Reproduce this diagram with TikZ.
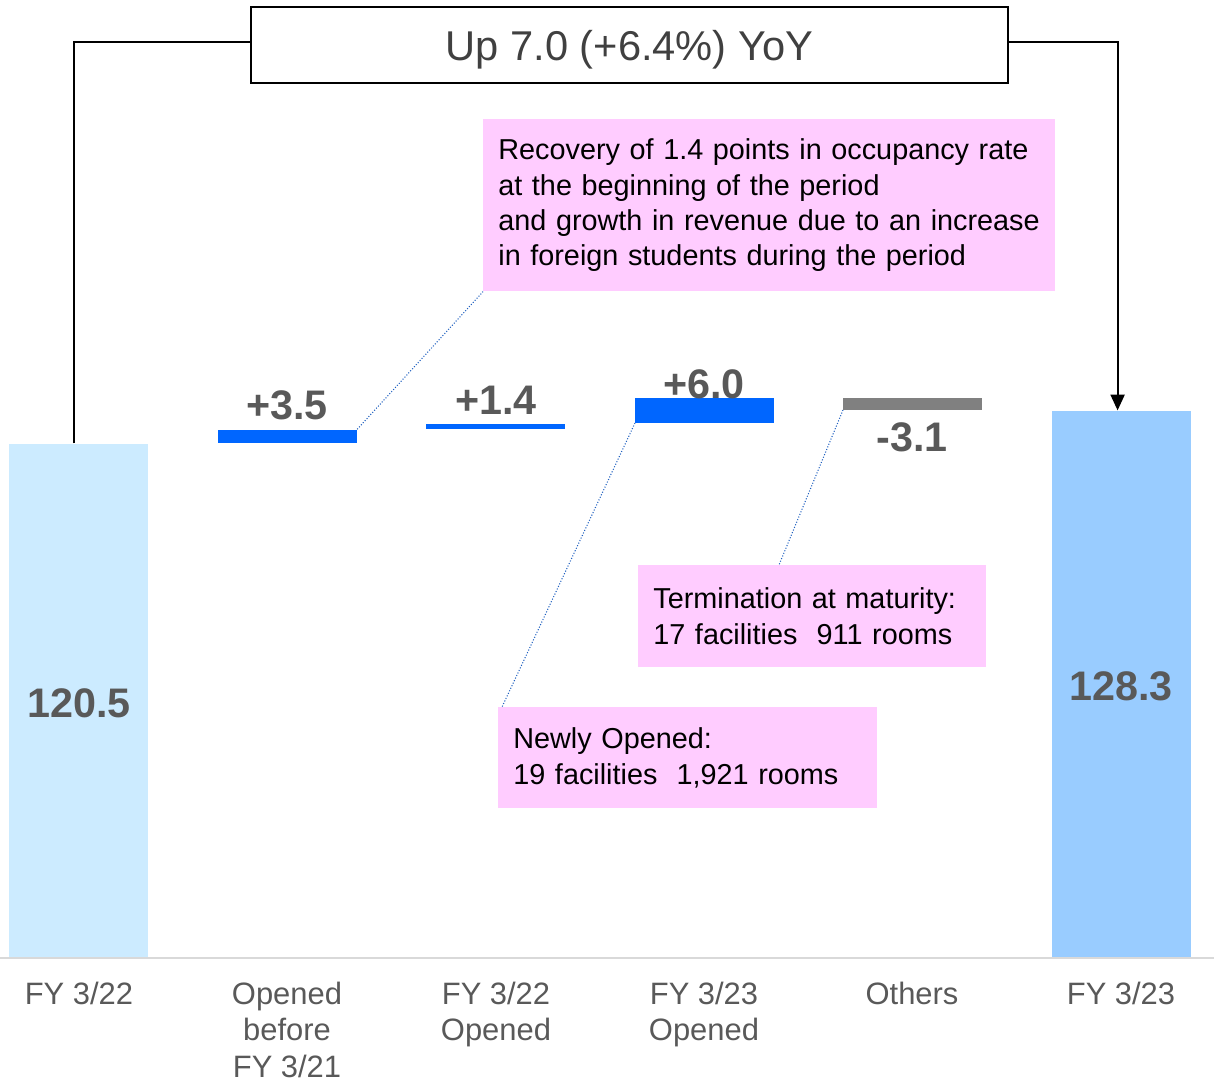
\documentclass[tikz,border=0pt]{standalone}
\usepackage{fontspec}
\setmainfont{Liberation Sans}
\usepackage{tikz}
\usetikzlibrary{arrows.meta,positioning}
\usepackage{xcolor}
\definecolor{startblue}{HTML}{CCEBFF}
\definecolor{endblue}{HTML}{99CCFF}
\definecolor{barblue}{HTML}{0066FF}
\definecolor{bargray}{HTML}{808080}
\definecolor{notepink}{HTML}{FFCCFF}
\definecolor{valgray}{HTML}{595959}
\definecolor{titlegray}{HTML}{404040}
\definecolor{axisgray}{HTML}{D9D9D9}
\definecolor{pointblue}{HTML}{2060C0}

\begin{document}
\begin{tikzpicture}[x=0.02cm,y=-0.02cm,
	bar/.style={anchor=south west,inner sep=0,minimum width=2.77cm},
	val/.style={text=valgray,inner sep=0,font=\fontsize{23.5}{28}\selectfont\bfseries},
	cat/.style={anchor=north,inner sep=0,align=center,text=valgray,font=\fontsize{17.6}{20.6}\selectfont},
	note/.style={anchor=north west,fill=notepink,inner xsep=0.3cm,inner ysep=0,align=left,font=\fontsize{16.4}{20.1}\selectfont},
	pointer/.style={densely dotted,line width=0.6pt,draw=pointblue}]
	\useasboundingbox (0,0) rectangle (1214,1082);
	\node[bar,fill=startblue,minimum height=10.26cm] (start) at (9,957) {};
	\node[bar,fill=endblue,minimum height=10.92cm] (total) at (1052,957) {};
	\node[bar,fill=barblue,minimum height=0.26cm] (before) at (218,443) {};
	\node[bar,fill=barblue,minimum height=0.1cm] (open22) at (426,429) {};
	\node[bar,fill=barblue,minimum height=0.5cm] (open23) at (635,423) {};
	\node[bar,fill=bargray,minimum height=0.24cm] (others) at (843,410) {};
	\draw[axisgray,line width=1.2pt] (0,958) -- (1214,958);
	\node[val] (vstart) at (79,703) {120.5};
	\node[val] (vbefore) at (287,405) {+3.5};
	\node[val] (vopen22) at (496,400) {+1.4};
	\node[val] (vopen23) at (704,384) {+6.0};
	\node[val] (vothers) at (912,437) {-3.1};
	\node[val] (vtotal) at (1121,686) {128.3};
	\node[cat] (cstart) at (79,982) {FY 3/22};
	\node[cat] (cbefore) at (287,982) {Opened\\before\\FY 3/21};
	\node[cat] (copen22) at (496,982) {FY 3/22\\Opened};
	\node[cat] (copen23) at (704,982) {FY 3/23\\Opened};
	\node[cat] (cothers) at (912,982) {Others};
	\node[cat] (ctotal) at (1121,982) {FY 3/23};
	\node[draw,line width=1.1pt,minimum width=15.14cm,minimum height=1.52cm,text depth=0pt,text=titlegray,font=\fontsize{23.7}{28}\selectfont] (yoy) at (629.5,45) {Up 7.0 (+6.4\%) YoY};
	\draw[line width=1.1pt] ([xshift=-0.09cm]start.north) |- ([yshift=0.06cm]yoy.west);
	\draw[line width=1.1pt,-{Triangle[width=8pt,length=9pt]}] ([yshift=0.06cm]yoy.east) -| ([xshift=-0.08cm]total.north);
	\node[note,text width=10.84cm,minimum height=3.44cm] (recovery) at (483,119) {Recovery of 1.4 points in occupancy rate\\at the beginning of the period\\and growth in revenue due to an increase\\in foreign students during the period};
	\node[note,text width=6.36cm,minimum height=2.04cm] (termination) at (638,565) {Termination at maturity:\\17 facilities\ \ 911 rooms};
	\node[note,text width=6.98cm,minimum height=2.02cm] (newly) at (498,707) {Newly Opened:\\19 facilities\ \ 1,921 rooms};
	\draw[pointer] (before.north east) -- (recovery.south west);
	\draw[pointer] (others.south west) -- ([xshift=2.82cm]termination.north west);
	\draw[pointer] (open23.south west) -- ([xshift=0.08cm]newly.north west);
\end{tikzpicture}
\end{document}
